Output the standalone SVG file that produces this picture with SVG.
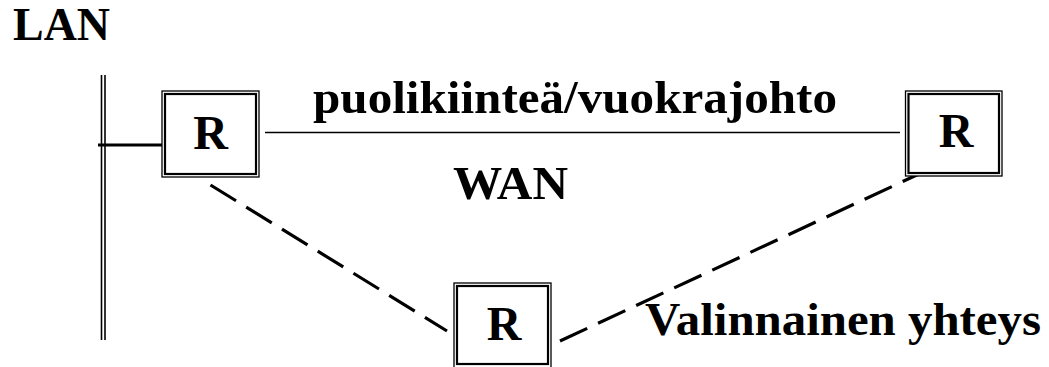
<svg xmlns="http://www.w3.org/2000/svg" width="1049" height="367" viewBox="0 0 1049 367">
  <style>
    .lbl { font-family: "Liberation Serif", "Times New Roman", serif; font-weight: bold; font-size: 47px; fill: #000; }
    .r { font-family: "Liberation Serif", "Times New Roman", serif; font-weight: bold; font-size: 48px; fill: #000; text-anchor: middle; }
    .outer { fill: #fff; stroke: #000; stroke-width: 1.3; }
    .inner { fill: none; stroke: #000; stroke-width: 2.2; }
    .bus { stroke: #000; stroke-width: 1.6; fill: none; }
    .dash { stroke: #000; stroke-width: 3.2; stroke-dasharray: 30 12; fill: none; }
  </style>

  <!-- LAN segment -->
  <g id="lan">
    <line class="bus" x1="101.5" y1="75" x2="101.5" y2="340"/>
    <line class="bus" x1="105" y1="75" x2="105" y2="340"/>
    <text class="lbl" x="13" y="40" textLength="97" lengthAdjust="spacingAndGlyphs">LAN</text>
  </g>

  <!-- links -->
  <g id="connectors">
    <line x1="98" y1="145" x2="165" y2="145" stroke="#000" stroke-width="3.2"/>
    <line x1="265" y1="132.5" x2="900" y2="132.5" stroke="#000" stroke-width="1.6"/>
    <line class="dash" x1="210.5" y1="185" x2="447" y2="331"/>
    <line class="dash" x1="560" y1="341" x2="921" y2="173"/>
  </g>

  <g id="router-a">
    <rect class="outer" x="162" y="91" width="97" height="86"/>
    <rect class="inner" x="165" y="94" width="91" height="80"/>
    <text class="r" x="210.5" y="148.5">R</text>
  </g>

  <g id="router-b">
    <rect class="outer" x="905.5" y="91" width="96.5" height="85"/>
    <rect class="inner" x="908.5" y="94" width="90.5" height="79"/>
    <text class="r" x="956" y="147">R</text>
  </g>

  <g id="router-c">
    <rect class="outer" x="454" y="283" width="97" height="86"/>
    <rect class="inner" x="457" y="286" width="91" height="78"/>
    <text class="r" x="504" y="340">R</text>
  </g>

  <g id="labels">
    <text class="lbl" x="313" y="113" textLength="524" lengthAdjust="spacingAndGlyphs">puolikiinteä/vuokrajohto</text>
    <text class="lbl" x="453" y="199" textLength="115" lengthAdjust="spacingAndGlyphs">WAN</text>
    <text class="lbl" x="645" y="335" textLength="396" lengthAdjust="spacingAndGlyphs">Valinnainen yhteys</text>
  </g>
</svg>
